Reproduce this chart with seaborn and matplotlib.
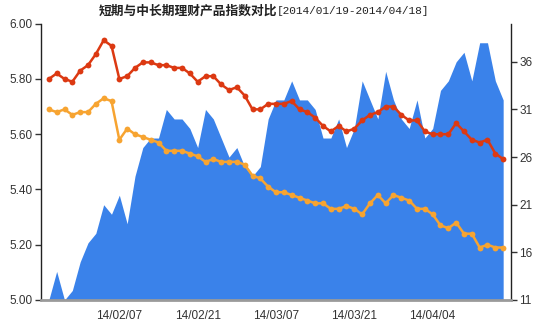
import matplotlib
matplotlib.use("Agg")
import matplotlib.pyplot as plt
import numpy as np
import pandas as pd
import seaborn as sns

# Trading days of the period (weekends and exchange holidays removed)
holidays = pd.to_datetime(["2014-01-31", "2014-02-03", "2014-02-04",
                           "2014-02-05", "2014-02-06", "2014-04-07"])
trade_days = [d for d in pd.bdate_range("2014-01-20", "2014-04-18") if d not in holidays]
day_labels = [d.strftime("%y/%m/%d") for d in trade_days]

# Short-term product index (left axis)
short_term_index = [
    5.80, 5.82, 5.80, 5.79, 5.83, 5.85, 5.89, 5.94, 5.92, 5.80, 5.81, 5.84,
    5.86, 5.86, 5.85, 5.85, 5.84, 5.84, 5.82, 5.79, 5.81, 5.81, 5.78, 5.76,
    5.77, 5.74, 5.69, 5.69, 5.71, 5.71, 5.71, 5.72, 5.69, 5.68, 5.66, 5.63,
    5.61, 5.63, 5.61, 5.62, 5.65, 5.67, 5.68, 5.70, 5.70, 5.67, 5.65, 5.65,
    5.61, 5.60, 5.60, 5.60, 5.64, 5.61, 5.58, 5.57, 5.58, 5.53, 5.51,
]
# Mid/long-term product index (left axis)
mid_long_term_index = [
    5.69, 5.68, 5.69, 5.67, 5.68, 5.68, 5.71, 5.73, 5.72, 5.58, 5.62, 5.60,
    5.59, 5.58, 5.57, 5.54, 5.54, 5.54, 5.53, 5.52, 5.50, 5.51, 5.50, 5.50,
    5.50, 5.49, 5.45, 5.44, 5.41, 5.39, 5.39, 5.38, 5.37, 5.36, 5.35, 5.35,
    5.33, 5.33, 5.34, 5.33, 5.31, 5.35, 5.38, 5.35, 5.38, 5.37, 5.36, 5.33,
    5.33, 5.31, 5.27, 5.26, 5.28, 5.24, 5.24, 5.19, 5.20, 5.19, 5.19,
]
# Spread series drawn as the area (right axis)
spread_basis_points = [
    11, 14, 11, 12, 15, 17, 18, 21, 20, 22, 19, 24,
    27, 28, 28, 31, 30, 30, 29, 27, 31, 30, 28, 26,
    27, 25, 24, 25, 30, 32, 32, 34, 32, 32, 31, 28,
    28, 30, 27, 29, 34, 32, 30, 35, 32, 30, 29, 32,
    28, 29, 33, 34, 36, 37, 34, 38, 38, 34, 32,
]

left_ticks = [5.00, 5.20, 5.40, 5.60, 5.80, 6.00]
right_ticks = [11, 16, 21, 26, 31, 36]

df = pd.DataFrame({
    "pos": np.arange(len(trade_days)),
    "label": day_labels,
    "short": short_term_index,
    "midlong": mid_long_term_index,
    "spread": spread_basis_points,
})

BLUE = "#3a82ea"
RED = "#dc3912"
ORANGE = "#f7a431"
TEXT = "#333333"

sns.set_style("white")
plt.rcParams["font.family"] = ["Liberation Sans", "DejaVu Sans"]

W, H = 538, 329
fig = plt.figure(figsize=(W / 100, H / 100), dpi=100)
ax = fig.add_axes([41 / W, 1 - 300 / H, 470 / W, 276.3 / H])
ax2 = ax.twinx()

# Area on the right axis, kept underneath the lines
ax2.fill_between(df["pos"], df["spread"], right_ticks[0], color=BLUE, lw=0)
ax.set_zorder(ax2.get_zorder() + 1)
ax.patch.set_visible(False)

for col, colr in (("short", RED), ("midlong", ORANGE)):
    sns.lineplot(data=df, x="pos", y=col, ax=ax, color=colr, linewidth=1.8,
                 marker="o", markersize=4.2, markeredgewidth=0, legend=False)

ax.set_xlim(-1, len(df))
ax.set_ylim(5.0, 6.0)
ax2.set_ylim(11, 40)

tick_pos = df["pos"][9::10]
ax.set_xticks(tick_pos)
ax.set_xticklabels(df["label"][9::10])
ax.set_yticks(left_ticks)
ax.set_yticklabels([f"{v:.2f}" for v in left_ticks])
ax2.set_yticks(right_ticks)
ax.set_xlabel("")
ax.set_ylabel("")

ax.tick_params(axis="both", direction="out", length=4, width=1, colors=TEXT,
               labelsize=8.5, pad=2)
ax.tick_params(axis="x", color="#555555", pad=3)
ax2.tick_params(axis="y", direction="out", length=4, width=1, colors=TEXT,
                labelsize=8.5, pad=2)

for a in (ax, ax2):
    a.spines["top"].set_visible(False)
ax.spines["right"].set_visible(False)
ax2.spines["left"].set_visible(False)
ax2.spines["bottom"].set_visible(False)
ax.spines["left"].set_color("#222222")
ax.spines["left"].set_linewidth(1)
ax2.spines["right"].set_color("#222222")
ax2.spines["right"].set_linewidth(1)
ax.spines["bottom"].set_color("#9a9a9a")
ax.spines["bottom"].set_linewidth(2)

# Title: Chinese part followed by the bracketed date range
fig.text(277 / W, 1 - 11 / H, "短期与中长期理财产品指数对比", ha="right", va="center",
         fontsize=9.2, fontweight="bold", color="#222222",
         family=["Noto Sans CJK SC", "DejaVu Sans"])
fig.text(277 / W, 1 - 11 / H, "[2014/01/19-2014/04/18]", ha="left", va="center",
         fontsize=8.0, color="#222222", family=["Liberation Mono", "DejaVu Sans Mono"])

fig.savefig("out.png", dpi=100)
